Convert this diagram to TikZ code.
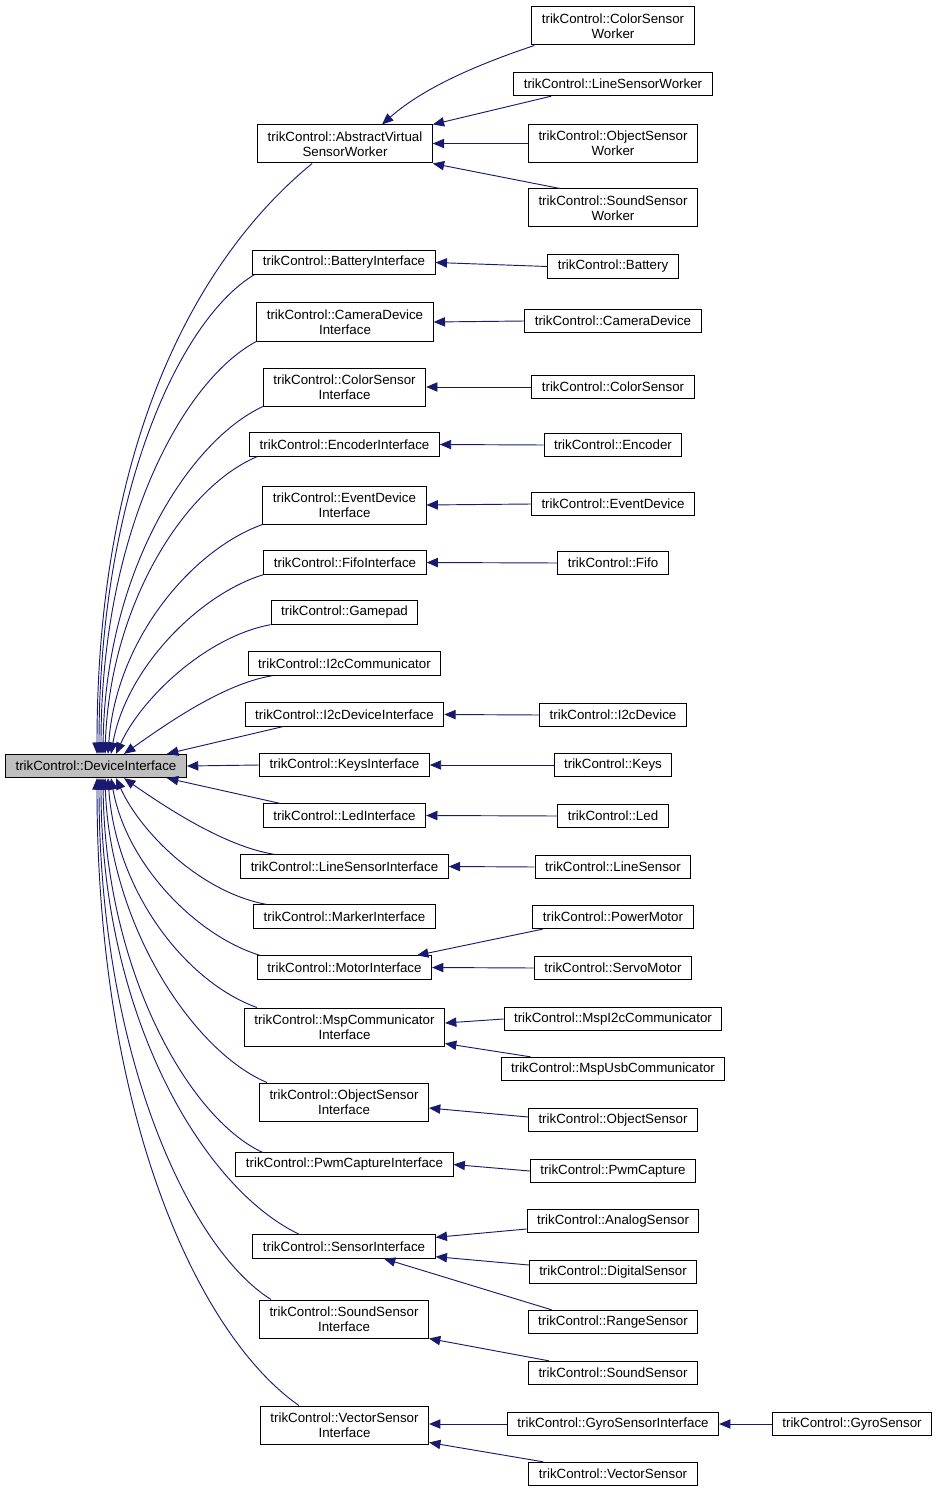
\documentclass[tikz,border=0pt]{standalone}
\usepackage{fontspec}
\newfontfamily\graphfont{Liberation Sans}
\usetikzlibrary{arrows.meta,calc}
\definecolor{edgeblue}{RGB}{25,25,112}
\tikzstyle{cls}=[draw, line width=0.75pt, inner xsep=7.5pt, inner ysep=3.5pt, minimum height=17.5pt,
                 align=center, font=\graphfont\fontsize{10}{11.25}\selectfont]
\tikzstyle{tallcls}=[cls, minimum height=28.5pt]
\tikzstyle{rootcls}=[cls, fill=black!25]
\tikzstyle{inherit}=[edgeblue, line width=0.7pt, -{Triangle[length=8.5pt,width=7pt]}]
\tikzstyle{classgraph}=[x=0.75pt, y=-0.75pt]
\begin{document}
\begin{tikzpicture}[classgraph]
        \useasboundingbox (0,0) rectangle (937,1494);
        % base class
        \node[rootcls] (DI) at (96,766) {trikControl::DeviceInterface};
        % direct subclasses
        \node[tallcls] (AVSW) at (345,144) {trikControl::AbstractVirtual\\SensorWorker};
        \node[cls] (BATI) at (344,262.5) {trikControl::BatteryInterface};
        \node[tallcls] (CAMI) at (345,322) {trikControl::CameraDevice\\Interface};
        \node[tallcls] (CSI) at (344.5,387) {trikControl::ColorSensor\\Interface};
        \node[cls] (ENCI) at (344.5,444.5) {trikControl::EncoderInterface};
        \node[tallcls] (EVDI) at (344.5,505) {trikControl::EventDevice\\Interface};
        \node[cls] (FIFOI) at (345,562.5) {trikControl::FifoInterface};
        \node[cls] (GPAD) at (344.5,612.5) {trikControl::Gamepad};
        \node[cls] (I2CC) at (344.5,663.5) {trikControl::I2cCommunicator};
        \node[cls] (I2CDI) at (344.5,714.5) {trikControl::I2cDeviceInterface};
        \node[cls] (KEYSI) at (344.5,765) {trikControl::KeysInterface};
        \node[cls] (LEDI) at (344.5,815.5) {trikControl::LedInterface};
        \node[cls] (LSI) at (344.5,866.5) {trikControl::LineSensorInterface};
        \node[cls] (MRKI) at (344.5,916.5) {trikControl::MarkerInterface};
        \node[cls] (MOTI) at (344.5,967.5) {trikControl::MotorInterface};
        \node[tallcls] (MSPC) at (344.5,1027) {trikControl::MspCommunicator\\Interface};
        \node[tallcls] (OSI) at (344,1102) {trikControl::ObjectSensor\\Interface};
        \node[cls] (PWMI) at (344.5,1164.5) {trikControl::PwmCaptureInterface};
        \node[cls] (SENI) at (344,1246.5) {trikControl::SensorInterface};
        \node[tallcls] (SSI) at (344,1319) {trikControl::SoundSensor\\Interface};
        \node[tallcls] (VSI) at (344.5,1425) {trikControl::VectorSensor\\Interface};
        % implementations
        \node[tallcls] (CSW) at (613,26) {trikControl::ColorSensor\\Worker};
        \node[cls] (LSW) at (613,84) {trikControl::LineSensorWorker};
        \node[tallcls] (OSW) at (613,143.5) {trikControl::ObjectSensor\\Worker};
        \node[tallcls] (SSW) at (613,208) {trikControl::SoundSensor\\Worker};
        \node[cls] (BAT) at (613,266.5) {trikControl::Battery};
        \node[cls] (CAM) at (613,321) {trikControl::CameraDevice};
        \node[cls] (CS) at (613,387) {trikControl::ColorSensor};
        \node[cls] (ENC) at (613,445) {trikControl::Encoder};
        \node[cls] (EVD) at (613,504) {trikControl::EventDevice};
        \node[cls] (FIFO) at (613,563) {trikControl::Fifo};
        \node[cls] (I2CD) at (613,715) {trikControl::I2cDevice};
        \node[cls] (KEYS) at (613,765) {trikControl::Keys};
        \node[cls] (LED) at (613,816) {trikControl::Led};
        \node[cls] (LS) at (613,867) {trikControl::LineSensor};
        \node[cls] (PM) at (613,917) {trikControl::PowerMotor};
        \node[cls] (SERVO) at (613,968) {trikControl::ServoMotor};
        \node[cls] (MSPI2C) at (613,1019) {trikControl::MspI2cCommunicator};
        \node[cls] (MSPUSB) at (613,1069) {trikControl::MspUsbCommunicator};
        \node[cls] (OS) at (613,1120) {trikControl::ObjectSensor};
        \node[cls] (PWMC) at (613,1171) {trikControl::PwmCapture};
        \node[cls] (ANS) at (613,1221) {trikControl::AnalogSensor};
        \node[cls] (DGS) at (613,1272) {trikControl::DigitalSensor};
        \node[cls] (RGS) at (613,1322) {trikControl::RangeSensor};
        \node[cls] (SS) at (613,1373) {trikControl::SoundSensor};
        \node[cls] (GSI) at (613,1424) {trikControl::GyroSensorInterface};
        \node[cls] (VS) at (613,1474) {trikControl::VectorSensor};
        \node[cls] (GS) at (852,1424) {trikControl::GyroSensor};

        % edges into the base class, upper half
        \draw[inherit] ($(AVSW.south west)+(55,0)$) .. controls +(-110,90) and +(0,-320) .. ($(DI.north)+(1,0)$);
        \draw[inherit] ($(BATI.south west)+(2,0)$) .. controls +(-75,45) and +(0,-260) .. ($(DI.north)+(3,0)$);
        \draw[inherit] (CAMI.south west) .. controls +(-75,40) and +(0,-220) .. ($(DI.north)+(5,0)$);
        \draw[inherit] (CSI.south west) .. controls +(-75,35) and +(2,-180) .. ($(DI.north)+(7,0)$);
        \draw[inherit] ($(ENCI.south west)+(8,0)$) .. controls +(-72,30) and +(5,-150) .. ($(DI.north)+(9,0)$);
        \draw[inherit] (EVDI.south west) .. controls +(-70,25) and +(8,-115) .. ($(DI.north)+(12,0)$);
        \draw[inherit] (FIFOI.south west) .. controls +(-65,20) and +(15,-85) .. ($(DI.north)+(15,0)$);
        \draw[inherit] (GPAD.south west) .. controls +(-65,12) and +(25,-55) .. ($(DI.north)+(20,0)$);
        \draw[inherit] ($(I2CC.south west)+(25,0)$) .. controls +(-50,8) and +(40,-28) .. ($(DI.north)+(28,0)$);
        \draw[inherit] ($(I2CDI.south west)+(38,0)$) -- ($(DI.north)+(71,0)$);
        \draw[inherit] (KEYSI.west) -- (DI.east);
        % edges into the base class, lower half
        \draw[inherit] ($(LEDI.north west)+(17,0)$) -- ($(DI.south)+(71,0)$);
        \draw[inherit] ($(LSI.north west)+(34,0)$) .. controls +(-50,-8) and +(40,28) .. ($(DI.south)+(28,0)$);
        \draw[inherit] ($(MRKI.north west)+(13,0)$) .. controls +(-65,-12) and +(25,55) .. ($(DI.south)+(20,0)$);
        \draw[inherit] ($(MOTI.north west)+(3,0)$) .. controls +(-65,-20) and +(15,85) .. ($(DI.south)+(15,0)$);
        \draw[inherit] ($(MSPC.north west)+(13,0)$) .. controls +(-70,-25) and +(8,115) .. ($(DI.south)+(12,0)$);
        \draw[inherit] ($(OSI.north west)+(8,0)$) .. controls +(-72,-30) and +(5,150) .. ($(DI.south)+(9,0)$);
        \draw[inherit] ($(PWMI.north west)+(27,0)$) .. controls +(-75,-35) and +(2,190) .. ($(DI.south)+(7,0)$);
        \draw[inherit] ($(SENI.north west)+(47,0)$) .. controls +(-95,-45) and +(0,240) .. ($(DI.south)+(5,0)$);
        \draw[inherit] ($(SSI.north west)+(12,0)$) .. controls +(-80,-50) and +(0,280) .. ($(DI.south)+(3,0)$);
        \draw[inherit] ($(VSI.north west)+(39,0)$) .. controls +(-100,-70) and +(0,340) .. ($(DI.south)+(1,0)$);

        % edges into the second level
        \draw[inherit] ($(CSW.south west)+(3,0)$) .. controls +(-45,15) and +(45,-40) .. ($(AVSW.north)+(37,0)$);
        \draw[inherit] ($(LSW.south west)+(38,0)$) -- (AVSW.north east);
        \draw[inherit] (OSW.west) -- (OSW.west -| AVSW.east);
        \draw[inherit] ($(SSW.north west)+(32,0)$) -- (AVSW.south east);
        \draw[inherit] (BAT.west) -- (BATI.east);
        \draw[inherit] (CAM.west) -- (CAMI.east);
        \draw[inherit] (CS.west) -- (CSI.east);
        \draw[inherit] (ENC.west) -- (ENCI.east);
        \draw[inherit] (EVD.west) -- (EVDI.east);
        \draw[inherit] (FIFO.west) -- (FIFOI.east);
        \draw[inherit] (I2CD.west) -- (I2CDI.east);
        \draw[inherit] (KEYS.west) -- (KEYSI.east);
        \draw[inherit] (LED.west) -- (LEDI.east);
        \draw[inherit] (LS.west) -- (LSI.east);
        \draw[inherit] ($(PM.south west)+(10,0)$) -- ($(MOTI.north east)+(-15,0)$);
        \draw[inherit] (SERVO.west) -- (MOTI.east);
        \draw[inherit] (MSPI2C.west) -- ($(MSPC.east)+(0,-4)$);
        \draw[inherit] ($(MSPUSB.north west)+(30,0)$) -- ($(MSPC.south east)+(0,-3)$);
        \draw[inherit] ($(OS.west)+(0,-3)$) -- ($(OSI.east)+(0,6)$);
        \draw[inherit] (PWMC.west) -- (PWMI.east);
        \draw[inherit] ($(ANS.west)+(0,8)$) -- ($(SENI.north east)+(0,3)$);
        \draw[inherit] ($(DGS.west)+(0,-7)$) -- ($(SENI.south east)+(0,-2)$);
        \draw[inherit] ($(RGS.north west)+(24,0)$) -- ($(SENI.south)+(40,0)$);
        \draw[inherit] ($(SS.north west)+(21,0)$) -- (SSI.south east);
        \draw[inherit] (GSI.west) -- (GSI.west -| VSI.east);
        \draw[inherit] ($(VS.north west)+(15,0)$) -- ($(VSI.south east)+(0,-2)$);
        \draw[inherit] (GS.west) -- (GSI.east);
    \end{tikzpicture}
\end{document}
